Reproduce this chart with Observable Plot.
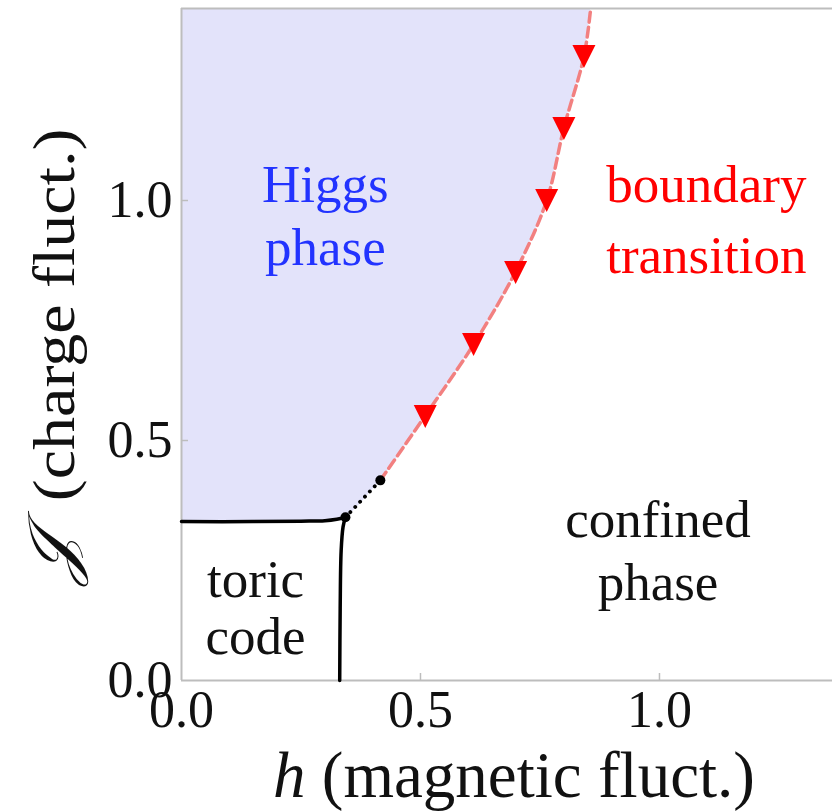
<!DOCTYPE html>
<html><head><meta charset="utf-8">
<script src="https://cdn.jsdelivr.net/npm/d3@7"></script>
<script src="https://cdn.jsdelivr.net/npm/@observablehq/plot@0.6"></script>
<style>
body{margin:0;background:#fff}
svg{display:block}
</style>
</head><body><div id="chart"></div>
<script>
// tick values
const xTicks = [0, 0.5, 1.0];
const yTicks = [0, 0.5, 1.0];
// boundary transition points (red triangles)
const transH = [0.510, 0.611, 0.699, 0.764, 0.800, 0.842];
const transJ = [0.55, 0.70, 0.85, 1.00, 1.15, 1.30];
// boundary transition line (dashed)
const boundaryH = [0.416, 0.510, 0.611, 0.699, 0.764, 0.800, 0.842, 0.856];
const boundaryJ = [0.417, 0.552, 0.70, 0.852, 1.00, 1.151, 1.30, 1.40];
// toric code / Higgs line
const toricTopH = [0, 0.15, 0.25, 0.30, 0.325, 0.343];
const toricTopJ = [0.331, 0.331, 0.332, 0.333, 0.336, 0.34];
// toric code / confined line
const toricSideH = [0.331, 0.332, 0.334, 0.338, 0.343];
const toricSideJ = [0, 0.15, 0.27, 0.32, 0.34];
// multicritical points
const critH = [0.343, 0.416];
const critJ = [0.34, 0.417];
// region labels
const labelText = ["Higgs", "phase", "boundary", "transition", "confined", "phase", "toric", "code"];
const labelH = [0.301, 0.301, 1.098, 1.098, 0.997, 0.997, 0.155, 0.155];
const labelJ = [0.996, 0.865, 0.996, 0.850, 0.298, 0.167, 0.173, 0.056];
const labelGroup = ["higgs", "higgs", "boundary", "boundary", "confined", "confined", "toric", "toric"];

const colorOf = {higgs: "#2233ff", boundary: "#ff0000", confined: "#111111", toric: "#111111"};

const areaRows = toricTopH.slice(2).map((h, i) => ({h, J: toricTopJ[i + 2]}))
  .concat(boundaryH.map((h, i) => ({h, J: boundaryJ[i]})));
const boundaryRows = boundaryH.map((h, i) => ({h, J: boundaryJ[i]}));
const transRows = transH.map((h, i) => ({h, J: transJ[i]}));
const topRows = toricTopH.map((h, i) => ({h, J: toricTopJ[i]}));
const sideRows = toricSideH.map((h, i) => ({h, J: toricSideJ[i]}));
const critRows = critH.map((h, i) => ({h, J: critJ[i]}));
const labelRows = labelText.map((t, i) => ({t, h: labelH[i], J: labelJ[i], g: labelGroup[i]}));

const downTriangle = {
  draw(ctx, size) {
    const k = Math.sqrt(size / Math.PI);
    ctx.moveTo(-k, -k);
    ctx.lineTo(k, -k);
    ctx.lineTo(0, k);
    ctx.closePath();
  }
};

const fmt = d3.format(".1f");
const frameColor = "#bdbdbd";
const serif = "Liberation Serif, DejaVu Serif, serif";

const chart = Plot.plot({
  width: 832, height: 812,
  marginLeft: 181, marginRight: 0, marginTop: 8, marginBottom: 132,
  style: {background: "white", color: "#111", fontFamily: serif},
  x: {domain: [0, 1.362]},
  y: {domain: [0, 1.4]},
  marks: [
    Plot.areaX(areaRows, {y: "J", x1: 0, x2: "h", fill: "#e3e3fa", curve: "catmull-rom"}),
    Plot.ruleX([0], {stroke: frameColor, strokeWidth: 2}),
    Plot.ruleY([0, 1.4], {stroke: frameColor, strokeWidth: 2}),
    Plot.tickX(xTicks.slice(1), {x: d => d, stroke: frameColor, strokeWidth: 1.5, insetTop: 665}),
    Plot.tickY(yTicks.slice(1), {y: d => d, stroke: frameColor, strokeWidth: 1.5, insetRight: 644}),
    Plot.axisX(xTicks, {tickSize: 0, tickPadding: 10, tickFormat: fmt, fontSize: 52, fontFamily: serif,
      label: "h (magnetic fluct.)", labelAnchor: "center", labelOffset: 116, labelArrow: "none"}),
    Plot.axisY(yTicks, {tickSize: 0, tickPadding: 9, tickFormat: fmt, fontSize: 52, fontFamily: serif,
      label: "J (charge fluct.)", labelAnchor: "center", labelOffset: 150, labelArrow: "none"}),
    Plot.line(boundaryRows, {x: "h", y: "J", stroke: "#f28080", strokeWidth: 3.5, strokeDasharray: "10,5", curve: "catmull-rom"}),
    Plot.line(critRows, {x: "h", y: "J", stroke: "#000", strokeWidth: 3.8, strokeDasharray: "0.1,7", strokeLinecap: "round"}),
    Plot.line(topRows, {x: "h", y: "J", stroke: "#000", strokeWidth: 3.5, curve: "catmull-rom"}),
    Plot.line(sideRows, {x: "h", y: "J", stroke: "#000", strokeWidth: 3.5, curve: "catmull-rom"}),
    Plot.dot(critRows, {x: "h", y: "J", r: 5, fill: "#000"}),
    Plot.dot(transRows, {x: "h", y: "J", r: 11.5, symbol: downTriangle, fill: "#ff0000", stroke: "none"}),
    Plot.text(labelRows, {x: "h", y: "J", text: "t", fill: d => colorOf[d.g], fontSize: 53, fontFamily: serif, lineAnchor: "bottom", textAnchor: "middle"})
  ]
});

// axis label styling: italic variable names
const svg = d3.select(chart.tagName === "svg" ? chart : chart.querySelector("svg"));
const xl = svg.select('g[aria-label="x-axis label"] text');
if (!xl.empty()) {
  xl.text(null).attr("font-size", 65);
  const t = xl.attr("transform") || "";
  xl.attr("transform", "translate(7,0) " + t);
  xl.append("tspan").attr("font-style", "italic").text("h");
  xl.append("tspan").text(" (magnetic fluct.)");
}
const yl = svg.select('g[aria-label="y-axis label"] text');
if (!yl.empty()) {
  yl.text(null).attr("font-size", 60);
  const t = yl.attr("transform") || "";
  yl.attr("transform", "translate(0,12) " + t + " scale(1.1,1)");
  yl.append("tspan").attr("font-size", 66).attr("font-style", "italic").text("𝒥");
  yl.append("tspan").text("  (charge fluct.)");
}
document.getElementById("chart").append(chart);
</script>
</body></html>
